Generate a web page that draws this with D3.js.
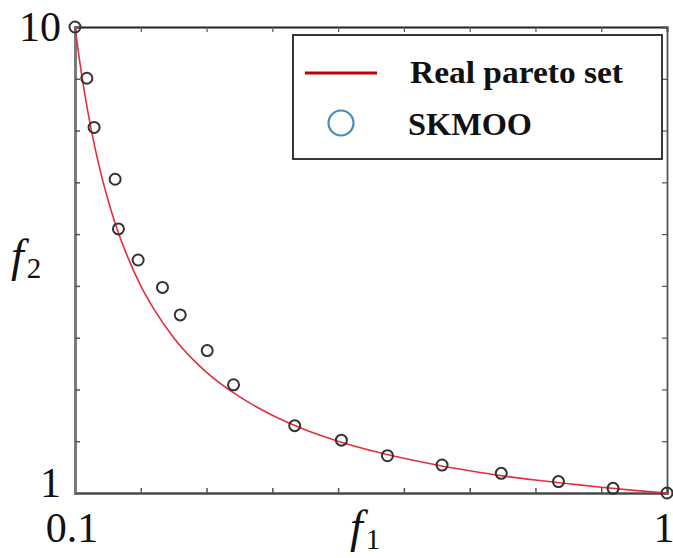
<!DOCTYPE html>
<html>
<head>
<meta charset="utf-8">
<script src="https://cdn.jsdelivr.net/npm/d3@7"></script>
<style>
  html, body { margin: 0; padding: 0; background: #fff; }
  svg { display: block; }
</style>
</head>
<body>
<svg id="chart" width="673" height="558"></svg>
<script>
// ---- Data ----
const paretoF1 = [0.1, 0.11, 0.12, 0.13, 0.14, 0.15, 0.16, 0.18, 0.2, 0.22, 0.25, 0.28, 0.3, 0.35, 0.4, 0.45, 0.5, 0.55, 0.6, 0.65, 0.7, 0.75, 0.8, 0.85, 0.9, 0.95, 1.0];
const paretoF2 = [10, 9.09, 8.33, 7.69, 7.14, 6.67, 6.25, 5.56, 5.0, 4.55, 4.0, 3.57, 3.33, 2.86, 2.5, 2.22, 2.0, 1.82, 1.67, 1.54, 1.43, 1.33, 1.25, 1.18, 1.11, 1.05, 1.0];

const skmooF1 = [0.1, 0.118, 0.129, 0.161, 0.166, 0.196, 0.233, 0.260, 0.301, 0.341, 0.434, 0.505, 0.575, 0.658, 0.748, 0.835, 0.918, 1.0];
const skmooF2 = [10, 9.01, 8.06, 7.06, 6.10, 5.50, 4.97, 4.44, 3.75, 3.09, 2.30, 2.02, 1.72, 1.54, 1.38, 1.22, 1.09, 1.0];

const xTicks = [0.1, 0.2, 0.3, 0.4, 0.5, 0.6, 0.7, 0.8, 0.9, 1.0];
const yTicks = [1, 2, 3, 4, 5, 6, 7, 8, 9, 10];
const xTickLabels = [{v: 0.1, t: "0.1"}, {v: 1.0, t: "1"}];
const yTickLabels = [{v: 1, t: "1"}, {v: 10, t: "10"}];
const legendLabels = ["Real pareto set", "SKMOO"];

// ---- Layout ----
const svg = d3.select("#chart");
const L = 75, R = 667, T = 27, B = 493;
const x = d3.scaleLinear().domain([0.1, 1]).range([L, R]);
const y = d3.scaleLinear().domain([1, 10]).range([B, T]);
const serif = "'Liberation Serif', 'Times New Roman', serif";

// ---- Axes with inward ticks ----
const tick = 5;
svg.append("g").attr("transform", `translate(0,${B})`)
  .call(d3.axisBottom(x).tickValues(xTicks).tickSize(-tick).tickFormat(""))
  .call(g => g.select(".domain").attr("stroke", "#4a4a4a").attr("stroke-width", 2.5))
  .call(g => g.selectAll(".tick line").attr("stroke", "#555").attr("stroke-width", 1.5));
svg.append("g").attr("transform", `translate(0,${T})`)
  .call(d3.axisTop(x).tickValues(xTicks).tickSize(-tick).tickFormat(""))
  .call(g => g.select(".domain").attr("stroke", "#222").attr("stroke-width", 1.8))
  .call(g => g.selectAll(".tick line").attr("stroke", "#555").attr("stroke-width", 1.2));
svg.append("g").attr("transform", `translate(${L},0)`)
  .call(d3.axisLeft(y).tickValues(yTicks).tickSize(-tick).tickFormat(""))
  .call(g => g.select(".domain").attr("stroke", "#7a7a7a").attr("stroke-width", 3))
  .call(g => g.selectAll(".tick line").attr("stroke", "#555").attr("stroke-width", 1.5));
svg.append("g").attr("transform", `translate(${R},0)`)
  .call(d3.axisRight(y).tickValues(yTicks).tickSize(-tick).tickFormat(""))
  .call(g => g.select(".domain").attr("stroke", "#555").attr("stroke-width", 1.8))
  .call(g => g.selectAll(".tick line").attr("stroke", "#555").attr("stroke-width", 1.2));

// ---- Tick labels ----
svg.selectAll("text.ylab").data(yTickLabels).enter().append("text")
  .attr("class", "ylab")
  .attr("x", 61).attr("y", d => y(d.v) + (d.v === 1 ? 4 : 14))
  .attr("text-anchor", "end")
  .attr("font-family", serif).attr("font-size", 42).attr("fill", "#111")
  .text(d => d.t);
svg.selectAll("text.xlab").data(xTickLabels).enter().append("text")
  .attr("class", "xlab")
  .attr("x", d => x(d.v) - 3).attr("y", 542)
  .attr("text-anchor", "middle")
  .attr("font-family", serif).attr("font-size", 42).attr("fill", "#111")
  .text(d => d.t);

// ---- Axis titles ----
const xt = svg.append("text").attr("x", 350).attr("y", 542)
  .attr("font-family", serif).attr("fill", "#111");
xt.append("tspan").attr("font-style", "italic").attr("font-size", 46).text("f");
xt.append("tspan").attr("font-size", 29).attr("dy", 7).attr("dx", 3).text("1");

const yt = svg.append("text").attr("x", 11).attr("y", 271)
  .attr("font-family", serif).attr("fill", "#111");
yt.append("tspan").attr("font-style", "italic").attr("font-size", 46).text("f");
yt.append("tspan").attr("font-size", 29).attr("dy", 7).attr("dx", 3).text("2");

// ---- Real pareto curve ----
const line = d3.line()
  .x((d, i) => x(paretoF1[i]))
  .y((d, i) => y(paretoF2[i]))
  .curve(d3.curveMonotoneX);
svg.append("path")
  .datum(paretoF1)
  .attr("d", line)
  .attr("fill", "none")
  .attr("stroke", "#e2303c")
  .attr("stroke-width", 1.6);

// ---- SKMOO points ----
svg.selectAll("circle.pt").data(skmooF1).enter().append("circle")
  .attr("class", "pt")
  .attr("cx", d => x(d))
  .attr("cy", (d, i) => y(skmooF2[i]))
  .attr("r", 5.5)
  .attr("fill", "none")
  .attr("stroke", "#333")
  .attr("stroke-width", 2);

// ---- Legend ----
const lg = svg.append("g");
lg.append("rect").attr("x", 293).attr("y", 35).attr("width", 369).attr("height", 124)
  .attr("fill", "#fff").attr("stroke", "#222").attr("stroke-width", 1.8);
lg.append("line").attr("x1", 305).attr("x2", 377).attr("y1", 73).attr("y2", 73)
  .attr("stroke", "#c00000").attr("stroke-width", 3);
lg.append("circle").attr("cx", 341).attr("cy", 123).attr("r", 12.5)
  .attr("fill", "none").attr("stroke", "#4a8cb8").attr("stroke-width", 2.2);
lg.append("text").attr("x", 410).attr("y", 83)
  .attr("font-family", serif).attr("font-weight", "bold").attr("font-size", 31)
  .attr("textLength", 213).attr("lengthAdjust", "spacingAndGlyphs")
  .attr("fill", "#111").text(legendLabels[0]);
lg.append("text").attr("x", 408).attr("y", 135)
  .attr("font-family", serif).attr("font-weight", "bold").attr("font-size", 31)
  .attr("textLength", 124).attr("lengthAdjust", "spacingAndGlyphs")
  .attr("fill", "#111").text(legendLabels[1]);
</script>
</body>
</html>
